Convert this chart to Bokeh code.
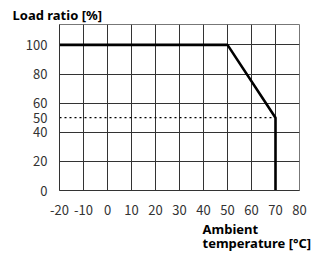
from bokeh.plotting import figure
from bokeh.models import FixedTicker, Range1d, Title
from bokeh.embed import file_html
from bokeh.resources import INLINE

# data
temperature = [-20, 50, 70, 70]
load_ratio = [100, 100, 50, 0]
ref_x = [-20, 70]
ref_y = [50, 50]
x_ticks = [-20, -10, 0, 10, 20, 30, 40, 50, 60, 70, 80]
x_tick_labels = ["-20", "-10", "0", "10", "20", "30", "40", "50", "60", "70", "80"]
y_ticks = [0, 20, 40, 50, 60, 80, 100]
y_grid = [0, 20, 40, 60, 80, 100]

FONT = "Noto Sans CJK JP"
BFONT = "Noto Sans"
GRID = "#333333"

p = figure(width=318, height=255, output_backend="svg", toolbar_location=None,
           x_range=Range1d(-20, 80), y_range=Range1d(0, 114),
           min_border_left=59, min_border_right=19, min_border_top=24, min_border_bottom=65)
p.background_fill_color = "white"
p.border_fill_color = "white"
p.outline_line_color = "#777777"
p.outline_line_width = 1

p.title.text = "Load ratio [%]"
p.title.align = "left"
p.title.offset = -47
p.title.text_font = BFONT
p.title.text_font_style = "bold"
p.title.text_font_size = "13px"
p.title.text_color = "black"
p.title.standoff = 2

p.xaxis.ticker = FixedTicker(ticks=x_ticks)
p.xaxis.major_label_overrides = {t: s for t, s in zip(x_ticks, x_tick_labels)}
p.yaxis.ticker = FixedTicker(ticks=y_ticks)
p.xgrid.ticker = FixedTicker(ticks=x_ticks)
p.ygrid.ticker = FixedTicker(ticks=y_grid)
for g in (p.xgrid, p.ygrid):
    g.grid_line_color = GRID
    g.grid_line_width = 1
    g.grid_line_alpha = 1

for ax in (p.xaxis, p.yaxis):
    ax.major_tick_line_color = None
    ax.minor_tick_line_color = None
    ax.axis_line_color = GRID
    ax.major_label_text_font = FONT
    ax.major_label_text_font_size = "13px"
    ax.major_label_text_color = "#333333"
p.xaxis.major_label_standoff = 8
p.yaxis.major_label_standoff = 6

xlabel = Title(text="Ambient\ntemperature [°C]", align="left", offset=143, text_font=BFONT,
               text_font_style="bold", text_font_size="13px", text_color="black",
               text_line_height=0.8, standoff=1)
p.add_layout(xlabel, "below")

p.line(ref_x, ref_y, line_color="black", line_width=1.2, line_dash="2 3")
p.line(temperature, load_ratio, line_color="black", line_width=2.6)

open("out.html", "w").write(file_html(p, INLINE))
